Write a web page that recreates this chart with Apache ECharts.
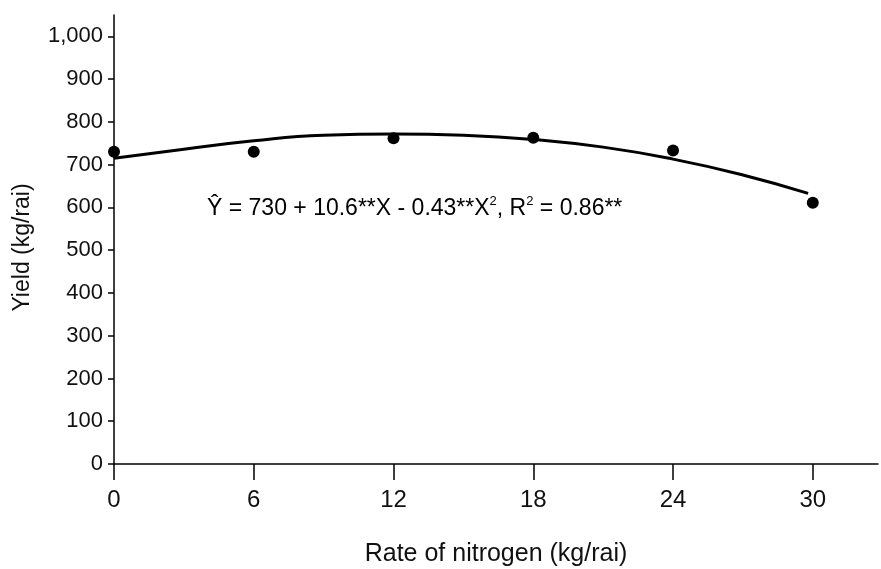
<!DOCTYPE html>
<html>
<head>
<meta charset="utf-8">
<script src="https://cdn.jsdelivr.net/npm/echarts@6/dist/echarts.min.js"></script>
<style>
  html, body { margin: 0; padding: 0; background: #fff; }
  #chart { width: 881px; height: 569px; }
</style>
</head>
<body>
<div id="chart"></div>
<script>
// observed yields at each nitrogen rate
const nitrogenRates = [0, 6, 12, 18, 24, 30];
const yields = [730, 730, 762, 763, 733, 611];

// fitted curve
const curveX = [0, 3, 6, 9, 12, 15, 18, 21, 24, 27, 29.8];
const curveY = [715, 736, 756, 769, 772, 769, 759, 741, 713, 676, 633];

const xTicks = [0, 6, 12, 18, 24, 30];
const yTicks = [0, 100, 200, 300, 400, 500, 600, 700, 800, 900, 1000];

const font = 'Liberation Sans, Arial, sans-serif';
const chart = echarts.init(document.getElementById('chart'));

const option = {
  animation: false,
  backgroundColor: '#fff',
  grid: { left: 114, right: 3, top: 15, bottom: 105, outerBoundsMode: 'none', containLabel: false },
  xAxis: {
    type: 'value',
    min: 0,
    max: 32.8,
    interval: 6,
    name: 'Rate of nitrogen (kg/rai)',
    nameLocation: 'middle',
    nameGap: 78,
    nameTextStyle: { fontFamily: font, fontSize: 25, color: '#111' },
    axisLine: { lineStyle: { color: '#000', width: 1.5 } },
    axisTick: { customValues: xTicks, length: 16, lineStyle: { color: '#000', width: 1.5 } },
    axisLabel: { customValues: xTicks, fontFamily: font, fontSize: 24, color: '#111', margin: 24 },
    splitLine: { show: false }
  },
  yAxis: {
    type: 'value',
    min: 0,
    max: 1050,
    interval: 100,
    name: 'Yield (kg/rai)',
    nameLocation: 'middle',
    nameGap: 80,
    nameTextStyle: { fontFamily: font, fontSize: 23, color: '#111', padding: [0, 16, 0, 0] },
    axisLine: { show: true, lineStyle: { color: '#000', width: 1.5 } },
    axisTick: { show: true, customValues: yTicks, length: 6, lineStyle: { color: '#000', width: 1.5 } },
    axisLabel: { customValues: yTicks, fontFamily: font, fontSize: 22, color: '#111', margin: 11 },
    splitLine: { show: false }
  },
  graphic: [{
    type: 'text',
    x: 207,
    y: 209,
    style: {
      text: '{m|Ŷ = 730 + 10.6**X - 0.43**X}{s|2}{m|, R}{s|2}{m| = 0.86**}',
      fontFamily: font,
      verticalAlign: 'middle',
      rich: {
        m: { fontFamily: font, fontSize: 23, color: '#111', lineHeight: 28 },
        s: { fontFamily: font, fontSize: 13, color: '#111', lineHeight: 28, padding: [0, 0, 16, 0] }
      }
    }
  }],
  series: [
    {
      type: 'line',
      data: curveX.map((x, i) => [x, curveY[i]]),
      smooth: true,
      symbol: 'none',
      lineStyle: { color: '#000', width: 3 },
      z: 2
    },
    {
      type: 'scatter',
      data: nitrogenRates.map((x, i) => [x, yields[i]]),
      symbol: 'circle',
      symbolSize: 12,
      itemStyle: { color: '#000', opacity: 1 },
      z: 3
    }
  ]
};

chart.setOption(option);
</script>
</body>
</html>
